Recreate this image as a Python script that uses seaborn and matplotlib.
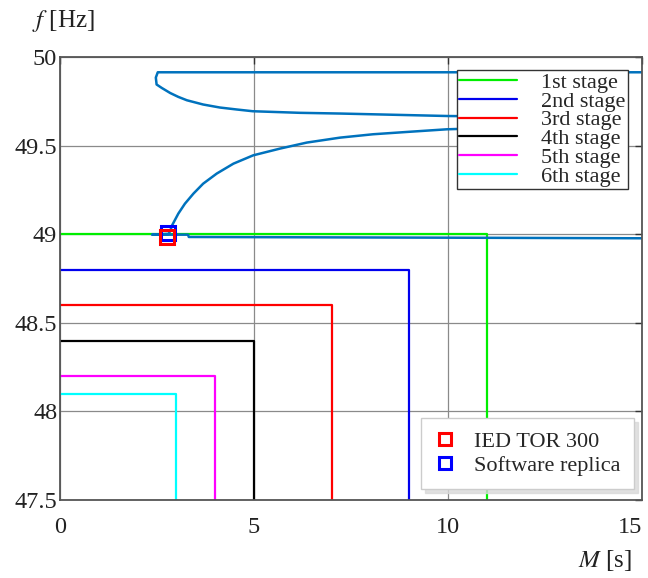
import matplotlib
matplotlib.use("Agg")
import matplotlib.pyplot as plt
import seaborn as sns
from matplotlib.lines import Line2D

# under-frequency load shedding stages: pickup frequency [Hz] and delay M [s]
stage_names = ["1st stage", "2nd stage", "3rd stage", "4th stage", "5th stage", "6th stage"]
stage_freq = [49.0, 48.8, 48.6, 48.4, 48.2, 48.1]
stage_delay = [11.0, 9.0, 7.0, 5.0, 4.0, 3.0]

# frequency trajectory (M, f)
traj_m = [16.0, 10.0, 5.0, 2.52, 2.47, 2.49, 2.62, 2.84, 3.05, 3.27, 3.69, 4.12, 4.55,
          4.97, 6.19, 7.22, 10.0, 12.0, 13.0, 12.5, 9.97, 8.94, 8.07, 7.22, 6.36, 5.67,
          4.98, 4.47, 4.04, 3.69, 3.44, 3.22, 3.05, 2.89, 2.84, 2.8, 2.37, 3.3, 3.32,
          10.0, 16.0]
traj_f = [49.915, 49.915, 49.915, 49.915, 49.885, 49.846, 49.827, 49.798, 49.776, 49.757,
          49.733, 49.716, 49.705, 49.695, 49.686, 49.682, 49.668, 49.664, 49.645, 49.61,
          49.593, 49.578, 49.565, 49.546, 49.518, 49.484, 49.446, 49.399, 49.343, 49.286,
          49.23, 49.173, 49.117, 49.051, 49.019, 49.003, 48.998, 48.998, 48.985, 48.981,
          48.977]

# trip points
trip_names = ["IED TOR 300", "Software replica"]
trip_m = [2.75, 2.79]
trip_f = [48.985, 49.01]

stage_colors = ["#00ee00", "#0000ee", "#ff0000", "#000000", "#ff00ff", "#00ffff"]
trip_colors = ["#ff0000", "#0000ff"]

sns.set_style("white")
plt.rcParams["font.family"] = ["Liberation Serif", "DejaVu Serif"]
plt.rcParams["mathtext.fontset"] = "stix"

fig = plt.figure(figsize=(6.48, 5.78), dpi=100)
ax = fig.add_axes([0.0926, 0.135, 0.898, 0.766])

stage_handles = []
for name, f, d, c in zip(stage_names, stage_freq, stage_delay, stage_colors):
    sns.lineplot(x=[0, d, d], y=[f, f, 47.3], sort=False, estimator=None,
                 color=c, lw=1.6, ax=ax)
    stage_handles.append(Line2D([], [], color=c, lw=1.6, label=name))

sns.lineplot(x=traj_m, y=traj_f, sort=False, estimator=None, color="#0072BD",
             lw=1.8, ax=ax)

# software replica first so the IED marker sits on top
for name, m, f, c in reversed(list(zip(trip_names, trip_m, trip_f, trip_colors))):
    sns.lineplot(x=[m], y=[f], marker="s", markersize=10, markerfacecolor="none",
                 markeredgecolor=c, markeredgewidth=2.2, ls="", ax=ax)
trip_handles = [Line2D([], [], marker="s", markersize=9, markerfacecolor="none",
                       markeredgecolor=c, markeredgewidth=2.2, ls="", label=name)
                for name, c in zip(trip_names, trip_colors)]

ax.set_xlim(0, 15)
ax.set_ylim(47.5, 50)
ax.set_xticks([0, 5, 10, 15])
ax.set_yticks([47.5, 48, 48.5, 49, 49.5, 50])
ax.set_yticklabels(["47.5", "48", "48.5", "49", "49.5", "50"])
ax.grid(True, color="#8a8a8a", lw=0.9)
ax.tick_params(direction="in", length=5, width=1, labelsize=17.5, top=True, right=True,
               colors="#333333", labelcolor="#222222")
ax.tick_params(axis="x", pad=12)
ax.tick_params(axis="y", pad=2)
ax.get_xticklabels()[-1].set_ha("right")
for s in ax.spines.values():
    s.set_color("#555555")
    s.set_linewidth(1.3)
ax.set_xlabel("")
ax.set_ylabel("")

leg1 = ax.legend(handles=stage_handles, loc="upper right", bbox_to_anchor=(0.976, 0.971),
                 fontsize=16, frameon=True, fancybox=False, edgecolor="#333333",
                 framealpha=1, labelspacing=-0.08, handlelength=2.6, handletextpad=1.1,
                 borderpad=0.1, borderaxespad=0)
leg1.get_frame().set_linewidth(1.0)
ax.add_artist(leg1)

leg2 = ax.legend(handles=trip_handles, loc="lower right", bbox_to_anchor=(0.986, 0.025),
                 fontsize=16, frameon=True, fancybox=False, edgecolor="#cccccc",
                 framealpha=1, labelspacing=0.15, handlelength=1.0, handletextpad=0.8,
                 borderpad=0.6, borderaxespad=0,
                 shadow={"color": "0.85", "alpha": 0.8, "ox": 3, "oy": -3})

fig.text(0.05, 0.963, "$f$ [Hz]", fontsize=18, ha="left", va="center", color="#222222")
fig.text(0.975, 0.03, "$M$ [s]", fontsize=18, ha="right", va="center", color="#222222")

fig.savefig("out.png", dpi=100)
